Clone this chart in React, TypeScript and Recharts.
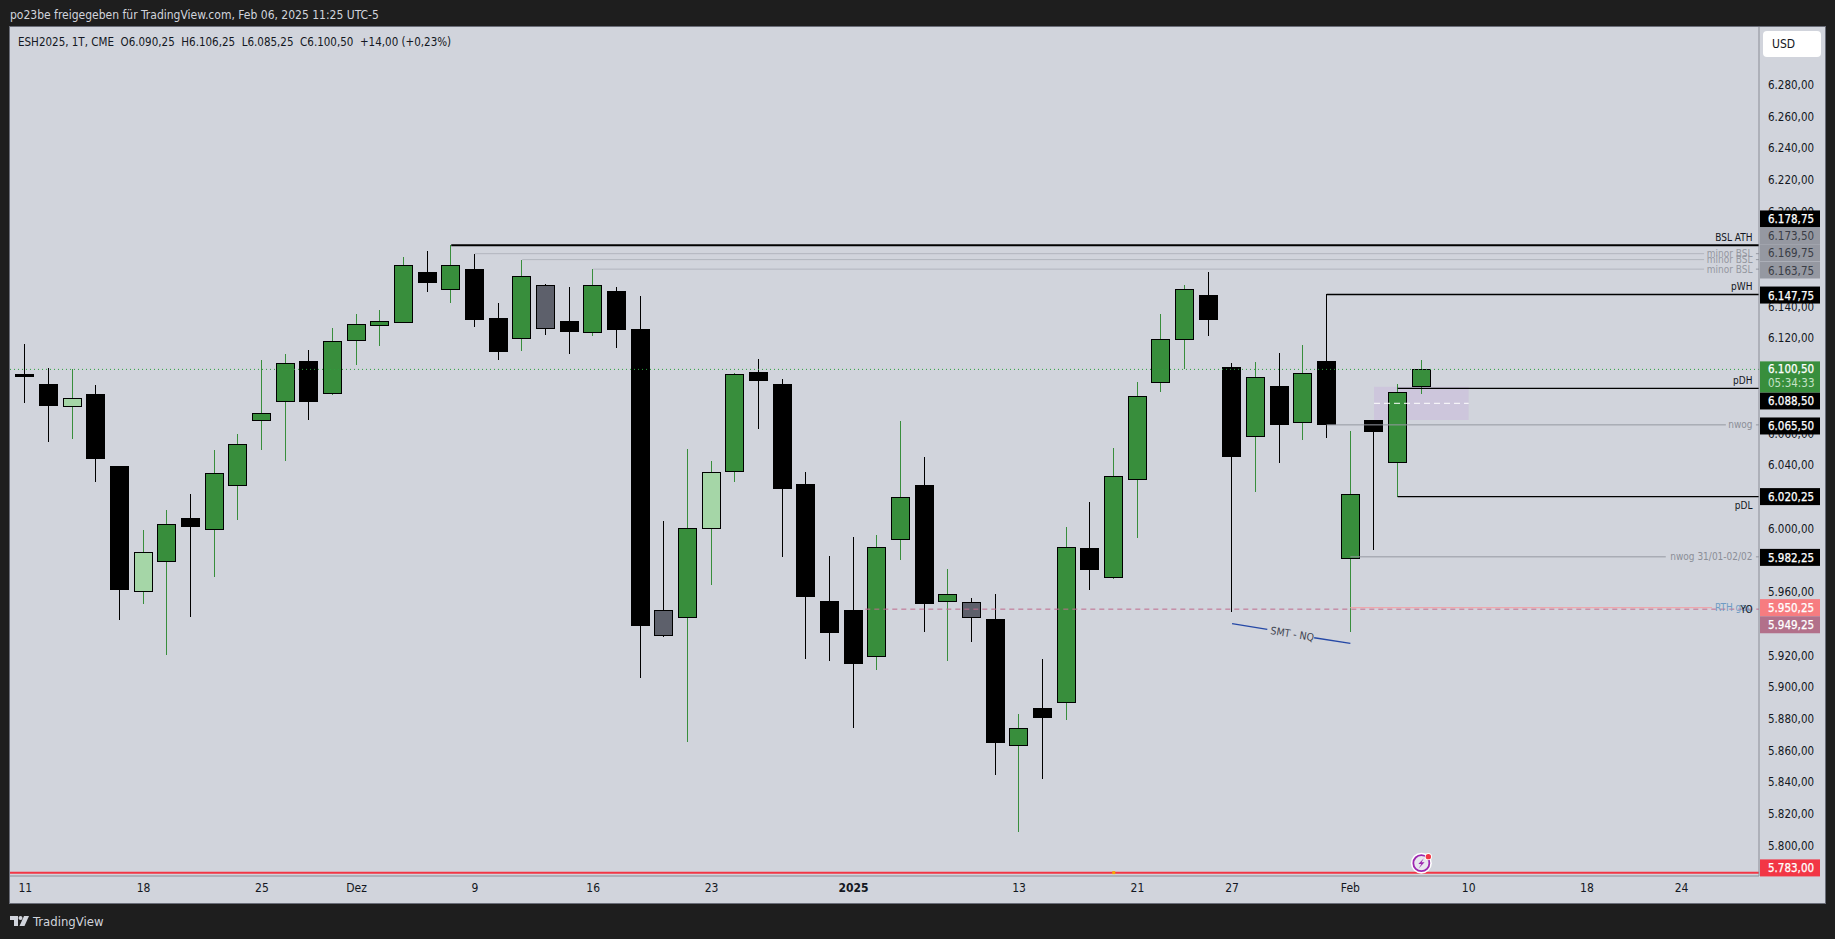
import React from 'react';
import { ComposedChart, Bar, XAxis, YAxis, ReferenceLine, ReferenceDot, ReferenceArea } from 'recharts';

const FONT = '"DejaVu Sans Condensed", "DejaVu Sans", sans-serif';

const highs = [6116.5, 6101.25, 6100.75, 6090.75, 6039.5, 5999.25, 6011.75, 6022, 6049.75, 6059.75, 6106.5, 6110.25, 6112.75, 6126.5, 6135.5, 6138, 6171.5, 6175.25, 6178.75, 6173.5, 6142.25, 6169.75, 6154.5, 6152.5, 6163.75, 6152.25, 6147, 6004.75, 6050.25, 6042.75, 6098.5, 6107, 6094.5, 6035.75, 5982.75, 5994.75, 5996, 6068, 6045, 5974.5, 5956, 5958.75, 5883, 5917.75, 6001, 6016.75, 6051, 6092.5, 6135.25, 6153.75, 6162, 6104.5, 6105, 6110.75, 6116, 6147.75, 6061.5, 6068.5, 6091, 6106.25];
const lows = [6079.5, 6054.75, 6056.5, 6029.5, 5942.5, 5952.5, 5920.25, 5944.25, 5969.5, 6005.5, 6049.75, 6042.75, 6068.5, 6084.5, 6103.25, 6115.25, 6130.5, 6149.5, 6142.5, 6127.25, 6106.5, 6112, 6122.25, 6110.25, 6121.5, 6114.25, 5906, 5931.5, 5865.25, 5964.5, 6029.5, 6063, 5982, 5917.75, 5916.5, 5874.25, 5910.75, 5980.25, 5934.75, 5916.5, 5928.5, 5844.5, 5808.5, 5842, 5879.25, 5961.25, 5968, 5994.25, 6086.25, 6101, 6121.5, 5947.5, 6023, 6041.5, 6056, 6057.5, 5935, 5986.5, 6020.25, 6085.25];
const opens = [6097.5, 6091.25, 6077.5, 6085, 6039.5, 5961, 5979.75, 6006.75, 5999.5, 6027.75, 6068.75, 6080.75, 6105.75, 6085.75, 6119.25, 6128.75, 6130.5, 6162, 6151.5, 6164, 6133, 6120, 6153.5, 6131, 6124.25, 6150, 6126, 5933.25, 5944, 6000.75, 6036.5, 6098.75, 6091.25, 6028.25, 5954.25, 5948.75, 5920, 5993.75, 6027.5, 5954.5, 5954, 5943, 5863.75, 5887, 5890.75, 5988, 5969.25, 6031.5, 6092.75, 6119.5, 6147.5, 6102, 6058.75, 6090, 6067.5, 6105.75, 5981.25, 6068.5, 6042, 6090.25];
const closes = [6096.25, 6078, 6082.25, 6044.5, 5962, 5985, 6002.75, 6001.75, 6035, 6053.25, 6072.75, 6104.25, 6080.75, 6118.25, 6129, 6130.75, 6166.25, 6155.75, 6166.25, 6132.25, 6112, 6159.25, 6126.75, 6124.75, 6153.5, 6126, 5939.25, 5948.5, 6000.75, 6035.5, 6097.5, 6093.75, 6025.75, 5957.5, 5934.75, 5915.5, 5988.75, 6019.75, 5953.25, 5958.5, 5944, 5865.25, 5874, 5881, 5988.5, 5974.5, 6033, 6083.5, 6119.5, 6151, 6132.25, 6045.75, 6096, 6066, 6098.5, 6066, 6021.75, 6061.5, 6086, 6100.5];
// d = black, u = green, l = light green, g = grey
const kinds = ['d', 'd', 'l', 'd', 'd', 'l', 'u', 'd', 'u', 'u', 'u', 'u', 'd', 'u', 'u', 'u', 'u', 'd', 'u', 'd', 'd', 'u', 'g', 'd', 'u', 'd', 'd', 'g', 'u', 'l', 'u', 'd', 'd', 'd', 'd', 'd', 'u', 'u', 'd', 'u', 'g', 'd', 'u', 'd', 'u', 'd', 'u', 'u', 'u', 'u', 'd', 'd', 'u', 'd', 'u', 'd', 'u', 'd', 'u', 'u'];

const xTicks = [0, 5, 10, 14, 19, 24, 29, 35, 42, 47, 51, 56, 61, 66, 70];
const xLabels = ['11', '18', '25', 'Dez', '9', '16', '23', '2025', '13', '21', '27', 'Feb', '10', '18', '24'];
// the scale's other round prices sit fully behind the price badges, so they are left out
const yTicks = [6280, 6260, 6240, 6220, 6200, 6140, 6120, 6060, 6040, 6000, 5960, 5920, 5900, 5880, 5860, 5840, 5820, 5800];

const X_DOMAIN: [number, number] = [-0.647, 73.27];
const Y_DOMAIN: [number, number] = [5780.9, 6316.5];

const levelLines = [
  { price: 6178.75, from: 18, to: 73.27, color: '#000000', width: 2 },
  { price: 6173.5, from: 19, to: 70.95, color: '#b2b5be', width: 1 },
  { price: 6169.75, from: 21, to: 70.95, color: '#b2b5be', width: 1 },
  { price: 6163.75, from: 24, to: 70.95, color: '#b2b5be', width: 1 },
  { price: 6147.75, from: 55, to: 73.27, color: '#000000', width: 1.4 },
  { price: 6088.5, from: 58, to: 73.27, color: '#000000', width: 1.4 },
  { price: 6065.5, from: 55, to: 71.87, color: '#9598a1', width: 1 },
  { price: 6020.25, from: 58, to: 73.27, color: '#000000', width: 1.4 },
  { price: 5982.25, from: 56, to: 69.33, color: '#9598a1', width: 1 },
  { price: 5950.25, from: 56, to: 71.28, color: '#eea8ae', width: 1.2 },
];

const levelTexts = [
  { text: 'BSL ATH', price: 6178.75, dy: -7.5, color: '#131722' },
  { text: 'minor BSL', price: 6173.5, dy: 0, color: '#9598a1' },
  { text: 'minor BSL', price: 6169.75, dy: 0, color: '#9598a1' },
  { text: 'minor BSL', price: 6163.75, dy: 0, color: '#9598a1' },
  { text: 'pWH', price: 6147.75, dy: -7.5, color: '#131722' },
  { text: 'pDH', price: 6088.5, dy: -7.5, color: '#131722' },
  { text: 'nwog', price: 6065.5, dy: 0, color: '#8b8e97' },
  { text: 'pDL', price: 6020.25, dy: 9, color: '#131722' },
  { text: 'nwog 31/01-02/02', price: 5982.25, dy: 0, color: '#8b8e97' },
  { text: 'RTH gap', price: 5950.25, dy: 0, color: '#6f9cc4' },
  { text: 'YO', price: 5949.25, dy: 0, color: '#131722' },
];

// price is what the badge says, shownAt is where the stacked price scale puts it
const badges = [
  { price: 6178.75, shownAt: 6195.4, bg: '#000000', fg: '#ffffff' },
  { price: 6173.5, shownAt: 6184.9, bg: '#9598a1', fg: '#3a3d46' },
  { price: 6169.75, shownAt: 6174.1, bg: '#9598a1', fg: '#3a3d46' },
  { price: 6163.75, shownAt: 6163.2, bg: '#9598a1', fg: '#3a3d46' },
  { price: 6147.75, shownAt: 6147.4, bg: '#000000', fg: '#ffffff' },
  { price: 6088.5, shownAt: 6080.6, bg: '#000000', fg: '#ffffff' },
  { price: 6065.5, shownAt: 6064.8, bg: '#000000', fg: '#ffffff' },
  { price: 6020.25, shownAt: 6020.25, bg: '#000000', fg: '#ffffff' },
  { price: 5982.25, shownAt: 5981.9, bg: '#000000', fg: '#ffffff' },
  { price: 5950.25, shownAt: 5950.2, bg: '#f77c80', fg: '#ffffff' },
  { price: 5949.25, shownAt: 5939.4, bg: '#b2708a', fg: '#ffffff' },
  { price: 5783, shownAt: 5786, bg: '#f23645', fg: '#ffffff' },
];

const candles = highs.map((h, i) => ({
  i,
  range: [lows[i], h],
  high: h,
  low: lows[i],
  open: opens[i],
  close: closes[i],
  kind: kinds[i],
}));

const fmt = (v: number) => v.toLocaleString('de-DE', { minimumFractionDigits: 2, maximumFractionDigits: 2 });

const BODY_FILL: Record<string, string> = { d: '#000000', u: '#388e3c', l: '#a5d6a7', g: '#5d606b' };
const WICK: Record<string, string> = { d: '#000000', u: '#388e3c', l: '#388e3c', g: '#000000' };

const Candle = (props: any) => {
  const { x, y, width, height, payload } = props;
  const k = height / (payload.high - payload.low);
  const cx = Math.floor(x + width / 2) + 0.5;
  const top = Math.round(y + (payload.high - Math.max(payload.open, payload.close)) * k);
  const bottom = Math.round(y + (payload.high - Math.min(payload.open, payload.close)) * k);
  return (
    <g shapeRendering="crispEdges">
      <line x1={cx} x2={cx} y1={y} y2={y + height} stroke={WICK[payload.kind]} strokeWidth={1} />
      <rect x={cx - 9} y={top + 0.5} width={18} height={Math.max(bottom - top, 1)} fill={BODY_FILL[payload.kind]} stroke="#000000" strokeWidth={1} />
    </g>
  );
};

const XTick = (props: any) => {
  const { x, y, payload } = props;
  const label = xLabels[xTicks.indexOf(payload.value)];
  return (
    <text x={x} y={y + 4} textAnchor="middle" dominantBaseline="central" fontFamily={FONT} fontSize={12} fontWeight={label === '2025' ? 700 : 400} fill="#131722">
      {label}
    </text>
  );
};

const YTick = (props: any) => {
  const { x, y, payload } = props;
  return (
    <text x={x} y={y} textAnchor="start" dominantBaseline="central" fontFamily={FONT} fontSize={11.5} fill="#131722">
      {fmt(payload.value)}
    </text>
  );
};

const Badge = (price: number, bg: string, fg: string) => (props: any) => (
  <g>
    <rect x={props.cx + 1} y={props.cy - 8.5} width={60} height={17} fill={bg} />
    <text x={props.cx + 9} y={props.cy + 0.5} dominantBaseline="central" fontFamily={FONT} fontSize={11.5} stroke={fg === '#ffffff' ? fg : 'none'} strokeWidth={0.25} fill={fg}>
      {fmt(price)}
    </text>
  </g>
);

const PriceBadge = (props: any) => (
  <g>
    <rect x={props.cx + 1} y={props.cy - 8} width={60} height={31} fill="#388e3c" />
    <text x={props.cx + 9} y={props.cy - 0.5} dominantBaseline="central" fontFamily={FONT} fontSize={11.5} stroke="#ffffff" strokeWidth={0.25} fill="#ffffff">
      {fmt(6100.5)}
    </text>
    <text x={props.cx + 9} y={props.cy + 13.5} dominantBaseline="central" fontFamily={FONT} fontSize={11.5} fill="#c5e3c7">
      05:34:33
    </text>
  </g>
);

const RightText = (text: string, dy: number, color: string) => (props: any) => (
  <text x={props.cx - 6.5} y={props.cy + dy} textAnchor="end" dominantBaseline="central" fontFamily={FONT} fontSize={10} fill={color}>
    {text}
  </text>
);

const SmtText = (props: any) => (
  <text x={props.cx} y={props.cy} textAnchor="middle" dominantBaseline="central" fontFamily={FONT} fontSize={10.5} fill="#434651" transform={`rotate(9.4 ${props.cx} ${props.cy})`}>
    SMT - NQ
  </text>
);

const BoltIcon = (props: any) => {
  const { cx, cy } = props;
  return (
    <g>
      <circle cx={cx} cy={cy} r={10.5} fill="#ffffff" />
      <circle cx={cx} cy={cy} r={8} fill="#e8e6ee" stroke="#9c27b0" strokeWidth={1.8} />
      <path d={`M${cx + 2.5} ${cy - 5} L${cx - 3} ${cy + 0.8} L${cx} ${cy + 0.8} L${cx - 2.5} ${cy + 5} L${cx + 3.2} ${cy - 0.8} L${cx + 0.2} ${cy - 0.8} Z`} fill="#9c27b0" />
      <circle cx={cx + 7} cy={cy - 6.5} r={3.6} fill="#ffffff" />
      <circle cx={cx + 7} cy={cy - 6.5} r={2.7} fill="#f23645" />
    </g>
  );
};

const Marker = (props: any) => <rect x={props.cx - 1.5} y={props.cy - 1.5} width={3} height={3} fill="#f7a600" />;

export default function App() {
  return (
    <div style={{ position: 'fixed', left: 0, top: 0, width: 1835, height: 939, background: '#1e1e1e', overflow: 'hidden', fontFamily: FONT }}>
      <div style={{ position: 'absolute', left: 10, top: 7, fontSize: 12, lineHeight: '16px', color: '#d1d4dc', whiteSpace: 'nowrap' }}>
        po23be freigegeben für TradingView.com, Feb 06, 2025 11:25 UTC-5
      </div>
      <div style={{ position: 'absolute', left: 9, top: 26, width: 1817, height: 878, boxSizing: 'border-box', border: '1px solid #6a6d78', background: '#d1d4dc' }}>
        <ComposedChart
          width={1815}
          height={876}
          data={candles}
          margin={{ top: 0, right: 0, bottom: 0, left: 0 }}
          style={{ position: 'absolute', left: 0, top: 0 }}
        >
          <XAxis
            dataKey="i"
            type="number"
            domain={X_DOMAIN}
            allowDataOverflow
            ticks={xTicks}
            interval={0}
            tick={<XTick />}
            height={27}
            tickLine={false}
            axisLine={{ stroke: '#8a8d96', strokeWidth: 1 }}
          />
          <YAxis
            orientation="right"
            domain={Y_DOMAIN}
            allowDataOverflow
            ticks={yTicks}
            interval={0}
            tick={<YTick />}
            width={66}
            tickLine={false}
            tickSize={0}
            tickMargin={9}
            axisLine={{ stroke: '#8a8d96', strokeWidth: 1 }}
          />
          <ReferenceArea x1={57} x2={61} y1={6068.6} y2={6089.6} fill="#cdc6dc" fillOpacity={1} stroke="none" />
          <ReferenceLine segment={[{ x: 57, y: 6079.1 }, { x: 61, y: 6079.1 }]} stroke="#ffffff" strokeWidth={1} strokeDasharray="6 4" />
          <ReferenceLine segment={[{ x: 35.5, y: 5949.25 }, { x: 73.27, y: 5949.25 }]} stroke="#bf6a8c" strokeWidth={1} strokeDasharray="5 4" />
          {levelLines.map((l) => (
            <ReferenceLine
              key={l.price}
              segment={[{ x: l.from, y: l.price }, { x: l.to, y: l.price }]}
              stroke={l.color}
              strokeWidth={l.width}
            />
          ))}
          {[6173.5, 6169.75, 6163.75, 6065.5, 5982.25].map((p) => (
            <ReferenceLine key={p} segment={[{ x: 73.14, y: p }, { x: 73.27, y: p }]} stroke="#9598a1" strokeWidth={1} />
          ))}
          <ReferenceLine segment={[{ x: 51, y: 5940.1 }, { x: 52.49, y: 5936.5 }]} stroke="#2548a6" strokeWidth={1.3} />
          <ReferenceLine segment={[{ x: 54.47, y: 5931.2 }, { x: 56, y: 5927.6 }]} stroke="#2548a6" strokeWidth={1.3} />
          <ReferenceLine y={5783} stroke="#f23645" strokeWidth={2} />
          <Bar dataKey="range" barSize={19} shape={<Candle />} isAnimationActive={false} />
          <ReferenceLine y={6100.5} stroke="#2e9e3e" strokeWidth={1} strokeDasharray="1 3" />
          <ReferenceDot x={53.55} y={5933.8} r={0} shape={SmtText} />
          <ReferenceDot x={46} y={5783} r={0} shape={Marker} />
          {levelTexts.map((t) => (
            <ReferenceDot key={t.text + t.price} x={73.27} y={t.price} r={0} shape={RightText(t.text, t.dy, t.color)} ifOverflow="visible" />
          ))}
        </ComposedChart>
        {/* second layer on the same scales: the badges have to lie over the axis tick labels */}
        <ComposedChart
          width={1815}
          height={876}
          data={candles}
          margin={{ top: 0, right: 66, bottom: 27, left: 0 }}
          style={{ position: 'absolute', left: 0, top: 0 }}
        >
          <XAxis dataKey="i" type="number" domain={X_DOMAIN} allowDataOverflow hide />
          <YAxis domain={Y_DOMAIN} allowDataOverflow hide />
          <ReferenceDot x={59} y={5789} r={0} shape={BoltIcon} ifOverflow="visible" />
          {badges.map((b) => (
            <ReferenceDot key={b.price} x={73.27} y={b.shownAt} r={0} shape={Badge(b.price, b.bg, b.fg)} ifOverflow="visible" />
          ))}
          <ReferenceDot x={73.27} y={6100.5} r={0} shape={PriceBadge} ifOverflow="visible" />
        </ComposedChart>
        <div style={{ position: 'absolute', left: 8, top: 7, fontSize: 11.5, lineHeight: '16px', color: '#131722', whiteSpace: 'pre' }}>
          {'ESH2025, 1T, CME  O6.090,25  H6.106,25  L6.085,25  C6.100,50  +14,00 (+0,23%)'}
        </div>
        <div style={{ position: 'absolute', left: 1753, top: 4, width: 58, height: 26, background: '#ffffff', borderRadius: 4, fontSize: 12, lineHeight: '26px', color: '#131722', paddingLeft: 9, boxSizing: 'border-box' }}>
          USD
        </div>
      </div>
      <svg style={{ position: 'absolute', left: 10, top: 916 }} width={20} height={11} viewBox="0 0 20 11">
        <path d="M0 0 H8 V10 H4 V4 H0 Z" fill="#d1d4dc" />
        <circle cx={10.5} cy={2} r={2} fill="#d1d4dc" />
        <path d="M14 0 H19 L14.5 10 H9.5 Z" fill="#d1d4dc" />
      </svg>
      <div style={{ position: 'absolute', left: 33, top: 913, fontSize: 13, lineHeight: '18px', color: '#d1d4dc' }}>TradingView</div>
    </div>
  );
}
